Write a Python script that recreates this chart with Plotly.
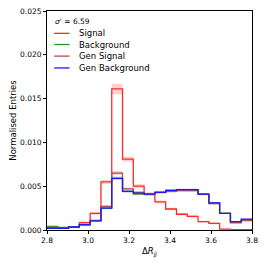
import numpy as np
import plotly.graph_objects as go

x_min, x_max, n_bins = 2.8, 3.8, 19
edges = np.linspace(x_min, x_max, n_bins + 1)

signal = [0.0002, 0.0002, 0.0003, 0.00085, 0.0019, 0.0055, 0.0161, 0.0081, 0.0050, 0.0041,
          0.0032, 0.0024, 0.0018, 0.00155, 0.00095, 0.00075, 0.0001, 0.00005, 0.00005]
signal_err = [0.0001, 0.0001, 0.0001, 0.00012, 0.00015, 0.00025, 0.0006, 0.0003, 0.00022, 0.0002,
              0.00018, 0.00015, 0.00013, 0.00012, 0.0001, 0.0001, 0.00005, 0.00004, 0.00004]
background = [0.0004, 0.0003, 0.00034, 0.0006, 0.00105, 0.0025, 0.0059, 0.0044, 0.0041, 0.0041,
              0.0043, 0.00452, 0.0046, 0.0046, 0.0041, 0.0031, 0.0019, 0.00090, 0.00115]
gen_signal = [0.0003, 0.00025, 0.00034, 0.00065, 0.0011, 0.0027, 0.0065, 0.0047, 0.0043, 0.0041,
              0.0043, 0.0044, 0.0045, 0.0045, 0.0041, 0.0030, 0.0019, 0.00083, 0.00106]
gen_signal_err = [0.00005, 0.00005, 0.00005, 0.00006, 0.00008, 0.00012, 0.0002, 0.00015, 0.00013, 0.00013,
                  0.00013, 0.00013, 0.00013, 0.00013, 0.00012, 0.0001, 0.00008, 0.00006, 0.00006]
gen_background = [0.0002, 0.0002, 0.00034, 0.0006, 0.00105, 0.0025, 0.0059, 0.0044, 0.0042, 0.0041,
                  0.0043, 0.00453, 0.0046, 0.0046, 0.0041, 0.0031, 0.0019, 0.00095, 0.00124]
gen_background_err = [0.00005, 0.00005, 0.00005, 0.00006, 0.00008, 0.00012, 0.0002, 0.00015, 0.00013, 0.00013,
                      0.00013, 0.00013, 0.00013, 0.00013, 0.00012, 0.0001, 0.00008, 0.00006, 0.00006]

x_ticks = [2.8, 3.0, 3.2, 3.4, 3.6, 3.8]
x_tick_labels = ["2.8", "3.0", "3.2", "3.4", "3.6", "3.8"]
y_ticks = [0, 0.005, 0.01, 0.015, 0.02, 0.025]
y_tick_labels = ["0.000", "0.005", "0.010", "0.015", "0.020", "0.025"]

series = [
    ("Signal", signal, signal_err, "#ff2a2a", "rgba(255,120,120,0.35)"),
    ("Background", background, None, "#1f9e1f", None),
    ("Gen Signal", gen_signal, gen_signal_err, "#b5504f", "rgba(190,90,90,0.3)"),
    ("Gen Background", gen_background, gen_background_err, "#1a1aff", "rgba(100,100,255,0.3)"),
]

def step(vals):
    return list(edges), list(vals) + [vals[-1]]

fig = go.Figure()
for name, vals, err, col, bcol in series:
    if err is not None:
        up = [v + e for v, e in zip(vals, err)]
        lo = [max(v - e, 0) for v, e in zip(vals, err)]
        xs, yu = step(up)
        _, yl = step(lo)
        fig.add_trace(go.Scatter(x=xs, y=yu, mode="lines", line=dict(width=0, shape="hv"),
                                 showlegend=False, hoverinfo="skip"))
        fig.add_trace(go.Scatter(x=xs, y=yl, mode="lines", line=dict(width=0, shape="hv"),
                                 fill="tonexty", fillcolor=bcol, showlegend=False, hoverinfo="skip"))
for name, vals, err, col, bcol in series:
    xs, ys = step(vals)
    fig.add_trace(go.Scatter(x=xs, y=ys, mode="lines", name=name,
                             line=dict(color=col, width=1.3, shape="hv"), showlegend=False))

font = dict(family="DejaVu Sans", size=7.5, color="black")
title_font = dict(family="DejaVu Sans", size=8.5, color="black")

# custom legend
leg_y = [0.898, 0.847, 0.794, 0.740]
ax0, ax1, tx = 0.035, 0.11, 0.145
fig.add_annotation(xref="paper", yref="paper", x=0.03, y=0.952, xanchor="left", yanchor="middle",
                   text="<i>σ'</i> = 6.59", showarrow=False, font=font)
for (name, vals, err, col, bcol), yy in zip(series, leg_y):
    fig.add_shape(type="line", xref="paper", yref="paper", x0=ax0, x1=ax1, y0=yy, y1=yy,
                  line=dict(color=col, width=1.3))
    fig.add_annotation(xref="paper", yref="paper", x=tx, y=yy, xanchor="left", yanchor="middle",
                       text=name, showarrow=False, font=title_font)

axis_common = dict(showline=True, linecolor="black", linewidth=1, mirror=True, ticks="outside",
                   ticklen=3, tickwidth=1, tickcolor="black", showgrid=False, zeroline=False,
                   tickfont=font, automargin=False, ticklabeloverflow="allow")
fig.update_xaxes(range=[x_min, x_max], tickvals=x_ticks, ticktext=x_tick_labels,
                 title=dict(text="Δ<i>R</i><sub><i>jj</i></sub>", font=title_font, standoff=4),
                 **axis_common)
fig.update_yaxes(range=[0, 0.025], tickvals=y_ticks, ticktext=y_tick_labels,
                 title=dict(text="Normalised Entries", font=title_font, standoff=6),
                 **axis_common)
fig.update_layout(width=250, height=250, margin=dict(l=39, r=6, t=3, b=28),
                  plot_bgcolor="white", paper_bgcolor="white")
fig.write_html("out.html")
